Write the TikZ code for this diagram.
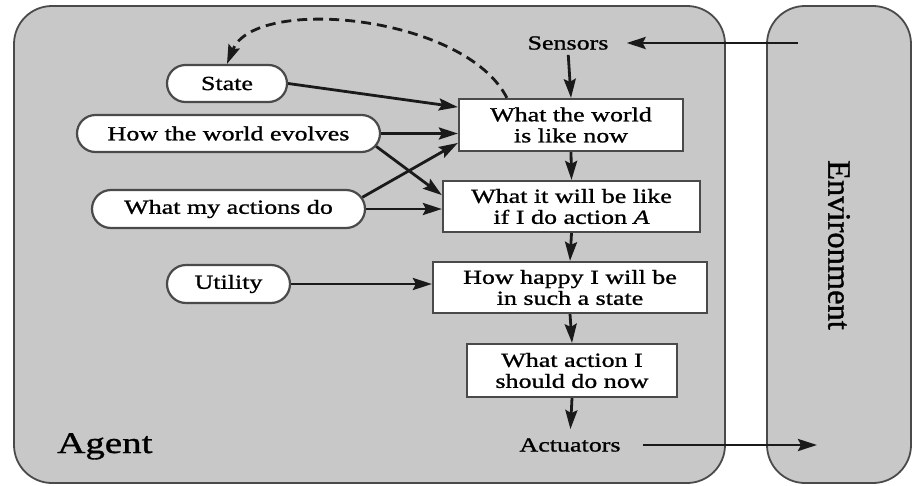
\documentclass[tikz,border=0pt]{standalone}
\usepackage{fontspec}
\setmainfont{Liberation Serif}[FakeStretch=1.3,FakeBold=1.1]
\newfontfamily\envfont{Liberation Serif}[FakeBold=1.1]
\usetikzlibrary{shapes.misc,arrows.meta,calc}
\definecolor{panelgray}{HTML}{C8C8C8}
\definecolor{edgegray}{HTML}{4A4A4A}
\definecolor{ink}{HTML}{1A1A1A}
\begin{document}
\begin{tikzpicture}[x=1pt,y=-1pt,
  panel/.style={fill=panelgray,draw=edgegray,line width=1.8pt,rounded corners=38pt},
  stepbox/.style={draw=edgegray,fill=white,line width=2.2pt,align=center,inner sep=0pt,
    font=\fontsize{20}{21}\selectfont},
  oval/.style={rounded rectangle,draw=edgegray,fill=white,line width=2.2pt,inner sep=0pt,
    minimum height=37pt,font=\fontsize{20}{21}\selectfont},
  tag/.style={inner sep=1pt,font=\fontsize{20}{21}\selectfont},
  flow/.style={draw=ink,line width=2.8pt,-{Stealth[length=19pt,width=12pt,inset=3pt]}},
  feedback/.style={flow,dash pattern=on 10pt off 6pt},
]
\useasboundingbox (0,0) rectangle (913,485);

% agent and environment panels
\draw[panel] (14,6) rectangle (725,483);
\draw[panel] (767,6) rectangle (911,483);
\node[rotate=-90,font=\envfont\fontsize{32.5}{34}\selectfont] (env) at (839,245) {Environment};
\node[anchor=base west,inner sep=0pt,font=\fontsize{30}{32}\selectfont] (agent) at (57,453) {Agent};

% decision chain
\node[tag] (sensors) at (568,43) {Sensors};
\node[stepbox,minimum width=224pt,minimum height=52pt] (now) at (571,125) {What the world\\is like now};
\node[stepbox,minimum width=257pt,minimum height=51pt] (next) at (571.5,206.5) {What it will be like\\if I do action \textit{A}};
\node[stepbox,minimum width=274pt,minimum height=51pt] (happy) at (570,287.5) {How happy I will be\\in such a state};
\node[stepbox,minimum width=210pt,minimum height=53pt] (act) at (572,370.5) {What action I\\should do now};
\node[tag] (actuators) at (570,445) {Actuators};

% knowledge the agent keeps
\node[oval,minimum width=120pt] (state) at (227,83.5) {State};
\node[oval,minimum width=303pt] (evolve) at (228.5,133.5) {How the world evolves};
\node[oval,minimum width=273pt,minimum height=38pt] (effects) at (228.5,209) {What my actions do};
\node[oval,minimum width=123pt,minimum height=38pt] (utility) at (228.5,284) {Utility};

% percepts in, actions out
\coordinate (envin) at (798,43);
\coordinate (envout) at (817,445);
\draw[flow,shorten >=17pt] (envin) -- (sensors.east);
\draw[flow,shorten <=21pt] (actuators.east) -- (envout);

% vertical flow
\draw[flow,shorten <=4pt] (sensors.south) -- (now.north);
\draw[flow] (now.south) -- (next.north);
\draw[flow] (next.south) -- (happy.north);
\draw[flow] (happy.south) -- (act.north);
\draw[flow,shorten >=8pt] (act.south) -- (actuators.north);

% model inputs
\draw[flow] (state.east) -- (now.171);
\draw[flow] (evolve.east) -- (evolve.east -| now.west);
\draw[flow] (evolve.-5) -- (next.175);
\draw[flow] (effects.5) -- (now.189);
\draw[flow] (effects.east) -- (effects.east -| next.west);
\draw[flow] (utility.east) -- (utility.east -| happy.west);

% state update
\draw[feedback] ($(now.north west)+(49,0)$) .. controls (465,15) and (255,-5) .. (state.north);
\end{tikzpicture}
\end{document}
